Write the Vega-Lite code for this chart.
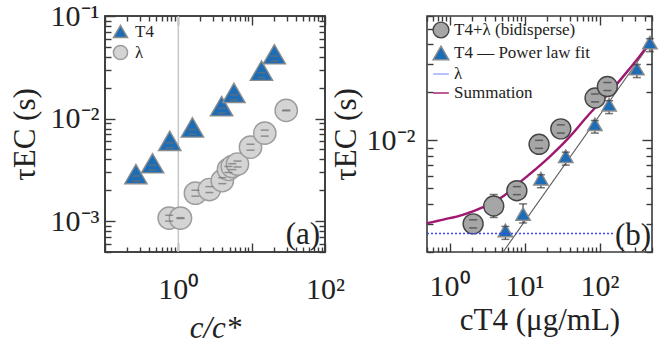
{
  "$schema": "https://vega.github.io/schema/vega-lite/v6.json",
  "background": "white",
  "padding": {"left": 8, "top": 0, "right": 0, "bottom": 0},
  "bounds": "flush",
  "spacing": 102,
  "resolve": {
    "scale": {"shape": "independent", "fill": "independent", "stroke": "independent", "strokeWidth": "independent"},
    "legend": {"shape": "independent", "fill": "independent", "stroke": "independent", "strokeWidth": "independent"}
  },
  "config": {
    "font": "Liberation Serif",
    "view": {"stroke": "#3a3a3a", "strokeWidth": 1.6},
    "axis": {
      "domain": false,
      "tickColor": "#3a3a3a", "tickWidth": 1.4,
      "labelFont": "Liberation Serif", "labelFontSize": 30, "labelColor": "#222",
      "titleFont": "Liberation Serif", "titleFontSize": 31, "titleColor": "#222", "titleFontWeight": "normal",
      "grid": false, "labelFlush": false, "labelOverlap": false, "labelBound": false
    },
    "legend": {"labelFont": "Liberation Serif", "labelFontSize": 17, "labelColor": "#222"}
  },
  "datasets": {
    "panel_a": [
      {"series": "T4", "x": 0.264, "y": 0.00288, "lo": 0.00246, "hi": 0.00275},
      {"series": "T4", "x": 0.445, "y": 0.00367, "lo": 0.00314, "hi": 0.00351},
      {"series": "T4", "x": 0.764, "y": 0.00606, "lo": 0.00519, "hi": 0.0058},
      {"series": "T4", "x": 1.555, "y": 0.0082, "lo": 0.00702, "hi": 0.00784},
      {"series": "T4", "x": 3.89, "y": 0.0132, "lo": 0.0113, "hi": 0.0126},
      {"series": "T4", "x": 5.73, "y": 0.0178, "lo": 0.0152, "hi": 0.017},
      {"series": "T4", "x": 13.6, "y": 0.0293, "lo": 0.0251, "hi": 0.028},
      {"series": "T4", "x": 20.4, "y": 0.0424, "lo": 0.0363, "hi": 0.0406},
      {"series": "λ", "x": 0.75, "y": 0.00107, "lo": 0.001, "hi": 0.00114},
      {"series": "λ", "x": 1.07, "y": 0.00107, "lo": 0.00106, "hi": 0.00108},
      {"series": "λ", "x": 1.71, "y": 0.00187, "lo": 0.00175, "hi": 0.002},
      {"series": "λ", "x": 2.65, "y": 0.00203, "lo": 0.0019, "hi": 0.00217},
      {"series": "λ", "x": 3.98, "y": 0.00248, "lo": 0.00232, "hi": 0.00265},
      {"series": "λ", "x": 4.83, "y": 0.00319, "lo": 0.00298, "hi": 0.00341},
      {"series": "λ", "x": 5.44, "y": 0.0034, "lo": 0.00318, "hi": 0.00363},
      {"series": "λ", "x": 6.41, "y": 0.0036, "lo": 0.00337, "hi": 0.00385},
      {"series": "λ", "x": 9.64, "y": 0.00526, "lo": 0.00492, "hi": 0.00562},
      {"series": "λ", "x": 15.1, "y": 0.00721, "lo": 0.00674, "hi": 0.00771},
      {"series": "λ", "x": 29.6, "y": 0.012, "lo": 0.0119, "hi": 0.0121}
    ],
    "overlap_mark": [
      {"c": 1, "y0": 0.0005, "y1": 0.1}
    ],
    "frame_a": [
      {"x0": 0.1, "x1": 100, "y0": 0.0005, "y1": 0.1}
    ],
    "panel_b": [
      {"series": "T4+λ (bidisperse)", "x": 2.06, "y": 0.003, "lo": 0.00283, "hi": 0.00318},
      {"series": "T4+λ (bidisperse)", "x": 3.88, "y": 0.00388, "lo": 0.00329, "hi": 0.00458},
      {"series": "T4+λ (bidisperse)", "x": 7.89, "y": 0.00484, "lo": 0.00457, "hi": 0.00513},
      {"series": "T4+λ (bidisperse)", "x": 15.6, "y": 0.00944, "lo": 0.00891, "hi": 0.01},
      {"series": "T4+λ (bidisperse)", "x": 30.4, "y": 0.0118, "lo": 0.0111, "hi": 0.0125},
      {"series": "T4+λ (bidisperse)", "x": 87.1, "y": 0.0184, "lo": 0.0174, "hi": 0.0195},
      {"series": "T4+λ (bidisperse)", "x": 127, "y": 0.0217, "lo": 0.0205, "hi": 0.023},
      {"series": "T4", "x": 5.55, "y": 0.00273, "lo": 0.0024, "hi": 0.00289},
      {"series": "T4", "x": 9.55, "y": 0.00346, "lo": 0.00304, "hi": 0.004},
      {"series": "T4", "x": 16.5, "y": 0.00575, "lo": 0.00505, "hi": 0.00609},
      {"series": "T4", "x": 35.4, "y": 0.00796, "lo": 0.00699, "hi": 0.00843},
      {"series": "T4", "x": 86.5, "y": 0.0126, "lo": 0.0111, "hi": 0.0133},
      {"series": "T4", "x": 134, "y": 0.0167, "lo": 0.0147, "hi": 0.0177},
      {"series": "T4", "x": 314, "y": 0.0281, "lo": 0.0247, "hi": 0.0298},
      {"series": "T4", "x": 469, "y": 0.0409, "lo": 0.0359, "hi": 0.0433}
    ],
    "fit": [
      {"x": 5.17, "y": 0.002},
      {"x": 482, "y": 0.0408}
    ],
    "lambda_level": [
      {"x": 0.5, "y": 0.00261},
      {"x": 156, "y": 0.00261}
    ],
    "summation": [
      {"x": 0.5, "y": 0.00303},
      {"x": 0.85, "y": 0.0032},
      {"x": 1.5, "y": 0.00342},
      {"x": 2.9, "y": 0.00385},
      {"x": 5.3, "y": 0.0045},
      {"x": 8, "y": 0.0053},
      {"x": 11.5, "y": 0.0061},
      {"x": 21, "y": 0.0078},
      {"x": 39, "y": 0.0104},
      {"x": 72, "y": 0.0145},
      {"x": 134, "y": 0.0198},
      {"x": 247, "y": 0.0278},
      {"x": 457, "y": 0.0399},
      {"x": 500, "y": 0.042}
    ]
  },
  "hconcat": [
    {
      "width": 220,
      "height": 236,
      "resolve": {"scale": {"x": "independent", "y": "independent"}},
      "layer": [
        {
          "data": {"name": "panel_a"},
          "mark": {"type": "point", "opacity": 0},
          "encoding": {
            "x": {
              "field": "x", "type": "quantitative",
              "scale": {"type": "log", "domain": [0.1, 100], "nice": false},
              "axis": {
                "orient": "bottom", "offset": -9, "tickSize": 9,
                "values": [0.1, 1, 10, 100],
                "labelExpr": "datum.value == 1 ? '10⁰' : datum.value == 100 ? '10²' : ''",
                "labelPadding": 22,
                "title": "c/c*", "titleFontStyle": "italic", "titlePadding": 9
              }
            },
            "y": {
              "field": "y", "type": "quantitative",
              "scale": {"type": "log", "domain": [0.0005, 0.1], "nice": false},
              "axis": {
                "orient": "left", "offset": -10, "tickSize": 10,
                "values": [0.001, 0.01, 0.1],
                "labelExpr": "datum.value == 0.1 ? '10⁻¹' : datum.value == 0.01 ? '10⁻²' : datum.value == 0.001 ? '10⁻³' : ''",
                "labelPadding": 6,
                "title": "τEC (s)", "titlePadding": 9
              }
            }
          }
        },
        {
          "data": {"name": "panel_a"},
          "mark": {"type": "point", "opacity": 0},
          "encoding": {
            "x": {
              "field": "x", "type": "quantitative",
              "scale": {"type": "log", "domain": [0.1, 100], "nice": false},
              "axis": {"orient": "top", "offset": -9, "tickSize": 9, "labels": false, "title": null, "values": [0.1, 1, 10, 100]}
            },
            "y": {
              "field": "y", "type": "quantitative",
              "scale": {"type": "log", "domain": [0.0005, 0.1], "nice": false},
              "axis": {"orient": "right", "offset": -10, "tickSize": 10, "labels": false, "title": null, "values": [0.001, 0.01, 0.1]}
            }
          }
        },
        {
          "data": {"name": "panel_a"},
          "mark": {"type": "point", "opacity": 0},
          "encoding": {
            "x": {
              "field": "x", "type": "quantitative",
              "scale": {"type": "log", "domain": [0.1, 100], "nice": false},
              "axis": {
                "orient": "bottom", "offset": -5, "tickSize": 5, "labels": false, "title": null,
                "values": [0.2, 0.3, 0.4, 0.5, 0.6, 0.7, 0.8, 0.9, 2, 3, 4, 5, 6, 7, 8, 9, 20, 30, 40, 50, 60, 70, 80, 90]
              }
            },
            "y": {
              "field": "y", "type": "quantitative",
              "scale": {"type": "log", "domain": [0.0005, 0.1], "nice": false},
              "axis": {
                "orient": "left", "offset": -6, "tickSize": 6, "labels": false, "title": null,
                "values": [0.0005, 0.0006, 0.0007, 0.0008, 0.0009, 0.002, 0.003, 0.004, 0.005, 0.006, 0.007, 0.008, 0.009, 0.02, 0.03, 0.04, 0.05, 0.06, 0.07, 0.08, 0.09]
              }
            }
          }
        },
        {
          "data": {"name": "panel_a"},
          "mark": {"type": "point", "opacity": 0},
          "encoding": {
            "x": {
              "field": "x", "type": "quantitative",
              "scale": {"type": "log", "domain": [0.1, 100], "nice": false},
              "axis": {
                "orient": "top", "offset": -5, "tickSize": 5, "labels": false, "title": null,
                "values": [0.2, 0.3, 0.4, 0.5, 0.6, 0.7, 0.8, 0.9, 2, 3, 4, 5, 6, 7, 8, 9, 20, 30, 40, 50, 60, 70, 80, 90]
              }
            },
            "y": {
              "field": "y", "type": "quantitative",
              "scale": {"type": "log", "domain": [0.0005, 0.1], "nice": false},
              "axis": {
                "orient": "right", "offset": -6, "tickSize": 6, "labels": false, "title": null,
                "values": [0.0005, 0.0006, 0.0007, 0.0008, 0.0009, 0.002, 0.003, 0.004, 0.005, 0.006, 0.007, 0.008, 0.009, 0.02, 0.03, 0.04, 0.05, 0.06, 0.07, 0.08, 0.09]
              }
            }
          }
        },
        {
          "layer": [
            {
              "data": {"name": "frame_a"},
              "mark": {"type": "rect", "fill": null, "fillOpacity": 0, "stroke": "#3a3a3a", "strokeWidth": 1.6},
              "encoding": {
                "x": {"field": "x0", "type": "quantitative", "scale": {"type": "log", "domain": [0.1, 100], "nice": false}, "axis": null},
                "x2": {"field": "x1"},
                "y": {"field": "y0", "type": "quantitative", "scale": {"type": "log", "domain": [0.0005, 0.1], "nice": false}, "axis": null},
                "y2": {"field": "y1"}
              }
            },
            {
              "data": {"name": "overlap_mark"},
              "mark": {"type": "rule", "color": "#c6c6c6", "strokeWidth": 1.5},
              "encoding": {
                "x": {"field": "c", "type": "quantitative", "scale": {"type": "log", "domain": [0.1, 100], "nice": false}, "axis": null},
                "y": {"field": "y0", "type": "quantitative", "scale": {"type": "log", "domain": [0.0005, 0.1], "nice": false}, "axis": null},
                "y2": {"field": "y1"}
              }
            },
            {
              "data": {"name": "panel_a"},
              "mark": {"type": "point", "filled": true, "size": 500, "strokeWidth": 1.4, "opacity": 1},
              "encoding": {
                "x": {"field": "x", "type": "quantitative", "scale": {"type": "log", "domain": [0.1, 100], "nice": false}, "axis": null},
                "y": {"field": "y", "type": "quantitative", "scale": {"type": "log", "domain": [0.0005, 0.1], "nice": false}, "axis": null},
                "shape": {
                  "field": "series", "type": "nominal",
                  "scale": {"domain": ["T4", "λ"], "range": ["triangle-up", "circle"]},
                  "legend": {
                    "orient": "top-left", "offset": 5, "title": null, "padding": 2,
                    "symbolSize": 200, "rowPadding": 1, "labelOffset": 6
                  }
                },
                "fill": {
                  "field": "series", "type": "nominal",
                  "scale": {"domain": ["T4", "λ"], "range": ["#1c6db5", "#d4d4d4"]},
                  "legend": {"title": null}
                },
                "stroke": {
                  "field": "series", "type": "nominal",
                  "scale": {"domain": ["T4", "λ"], "range": ["#8c8c8c", "#9c9c9c"]},
                  "legend": {"title": null}
                }
              }
            },
            {
              "data": {"name": "panel_a"},
              "mark": {"type": "tick", "orient": "horizontal", "size": 8, "thickness": 1.5, "color": "#707070"},
              "encoding": {
                "x": {"field": "x", "type": "quantitative", "scale": {"type": "log", "domain": [0.1, 100], "nice": false}, "axis": null},
                "y": {"field": "lo", "type": "quantitative", "scale": {"type": "log", "domain": [0.0005, 0.1], "nice": false}, "axis": null}
              }
            },
            {
              "data": {"name": "panel_a"},
              "mark": {"type": "tick", "orient": "horizontal", "size": 8, "thickness": 1.5, "color": "#707070"},
              "encoding": {
                "x": {"field": "x", "type": "quantitative", "scale": {"type": "log", "domain": [0.1, 100], "nice": false}, "axis": null},
                "y": {"field": "hi", "type": "quantitative", "scale": {"type": "log", "domain": [0.0005, 0.1], "nice": false}, "axis": null}
              }
            },
            {
              "data": {"values": [{"x": 50, "y": 0.00073, "t": "(a)"}]},
              "mark": {"type": "text", "fontSize": 31, "color": "#222", "align": "center", "baseline": "middle"},
              "encoding": {
                "x": {"field": "x", "type": "quantitative", "scale": {"type": "log", "domain": [0.1, 100], "nice": false}, "axis": null},
                "y": {"field": "y", "type": "quantitative", "scale": {"type": "log", "domain": [0.0005, 0.1], "nice": false}, "axis": null},
                "text": {"field": "t"}
              }
            }
          ]
        }
      ]
    },
    {
      "width": 225,
      "height": 236,
      "resolve": {"scale": {"x": "independent", "y": "independent"}},
      "layer": [
        {
          "data": {"name": "panel_b"},
          "mark": {"type": "point", "opacity": 0},
          "encoding": {
            "x": {
              "field": "x", "type": "quantitative",
              "scale": {"type": "log", "domain": [0.5, 500], "nice": false},
              "axis": {
                "orient": "bottom", "offset": -9, "tickSize": 9,
                "values": [1, 10, 100],
                "labelExpr": "datum.value == 1 ? '10⁰' : datum.value == 10 ? '10¹' : datum.value == 100 ? '10²' : ''",
                "labelPadding": 19,
                "title": "cT4 (μg/mL)", "titlePadding": 4
              }
            },
            "y": {
              "field": "y", "type": "quantitative",
              "scale": {"type": "log", "domain": [0.002, 0.06], "nice": false},
              "axis": {
                "orient": "left", "offset": -10, "tickSize": 10,
                "values": [0.01],
                "labelExpr": "datum.value == 0.01 ? '10⁻²' : ''",
                "labelPadding": 12,
                "title": "τEC (s)", "titlePadding": 4
              }
            }
          }
        },
        {
          "data": {"name": "panel_b"},
          "mark": {"type": "point", "opacity": 0},
          "encoding": {
            "x": {
              "field": "x", "type": "quantitative",
              "scale": {"type": "log", "domain": [0.5, 500], "nice": false},
              "axis": {"orient": "top", "offset": -9, "tickSize": 9, "labels": false, "title": null, "values": [1, 10, 100]}
            },
            "y": {
              "field": "y", "type": "quantitative",
              "scale": {"type": "log", "domain": [0.002, 0.06], "nice": false},
              "axis": {"orient": "right", "offset": -10, "tickSize": 10, "labels": false, "title": null, "values": [0.01]}
            }
          }
        },
        {
          "data": {"name": "panel_b"},
          "mark": {"type": "point", "opacity": 0},
          "encoding": {
            "x": {
              "field": "x", "type": "quantitative",
              "scale": {"type": "log", "domain": [0.5, 500], "nice": false},
              "axis": {
                "orient": "bottom", "offset": -5, "tickSize": 5, "labels": false, "title": null,
                "values": [0.5, 0.6, 0.7, 0.8, 0.9, 2, 3, 4, 5, 6, 7, 8, 9, 20, 30, 40, 50, 60, 70, 80, 90, 200, 300, 400, 500]
              }
            },
            "y": {
              "field": "y", "type": "quantitative",
              "scale": {"type": "log", "domain": [0.002, 0.06], "nice": false},
              "axis": {
                "orient": "left", "offset": -6, "tickSize": 6, "labels": false, "title": null,
                "values": [0.002, 0.003, 0.004, 0.005, 0.006, 0.007, 0.008, 0.009, 0.02, 0.03, 0.04, 0.05, 0.06]
              }
            }
          }
        },
        {
          "data": {"name": "panel_b"},
          "mark": {"type": "point", "opacity": 0},
          "encoding": {
            "x": {
              "field": "x", "type": "quantitative",
              "scale": {"type": "log", "domain": [0.5, 500], "nice": false},
              "axis": {
                "orient": "top", "offset": -5, "tickSize": 5, "labels": false, "title": null,
                "values": [0.5, 0.6, 0.7, 0.8, 0.9, 2, 3, 4, 5, 6, 7, 8, 9, 20, 30, 40, 50, 60, 70, 80, 90, 200, 300, 400, 500]
              }
            },
            "y": {
              "field": "y", "type": "quantitative",
              "scale": {"type": "log", "domain": [0.002, 0.06], "nice": false},
              "axis": {
                "orient": "right", "offset": -6, "tickSize": 6, "labels": false, "title": null,
                "values": [0.002, 0.003, 0.004, 0.005, 0.006, 0.007, 0.008, 0.009, 0.02, 0.03, 0.04, 0.05, 0.06]
              }
            }
          }
        },
        {
          "layer": [
            {
              "data": {"name": "fit"},
              "mark": {"type": "line", "color": "#5a5a5a", "strokeWidth": 1.1},
              "encoding": {
                "x": {"field": "x", "type": "quantitative", "scale": {"type": "log", "domain": [0.5, 500], "nice": false}, "axis": null},
                "y": {"field": "y", "type": "quantitative", "scale": {"type": "log", "domain": [0.002, 0.06], "nice": false}, "axis": null}
              }
            },
            {
              "data": {"name": "summation"},
              "mark": {"type": "line", "color": "#a01870", "strokeWidth": 2.4, "interpolate": "monotone"},
              "encoding": {
                "x": {"field": "x", "type": "quantitative", "scale": {"type": "log", "domain": [0.5, 500], "nice": false}, "axis": null},
                "y": {"field": "y", "type": "quantitative", "scale": {"type": "log", "domain": [0.002, 0.06], "nice": false}, "axis": null}
              }
            },
            {
              "data": {"name": "panel_b"},
              "mark": {"type": "rule", "color": "#555", "strokeWidth": 1.3},
              "encoding": {
                "x": {"field": "x", "type": "quantitative", "scale": {"type": "log", "domain": [0.5, 500], "nice": false}, "axis": null},
                "y": {"field": "lo", "type": "quantitative", "scale": {"type": "log", "domain": [0.002, 0.06], "nice": false}, "axis": null},
                "y2": {"field": "hi"}
              }
            },
            {
              "data": {"name": "panel_b"},
              "mark": {"type": "point", "filled": true, "opacity": 1},
              "encoding": {
                "x": {"field": "x", "type": "quantitative", "scale": {"type": "log", "domain": [0.5, 500], "nice": false}, "axis": null},
                "y": {"field": "y", "type": "quantitative", "scale": {"type": "log", "domain": [0.002, 0.06], "nice": false}, "axis": null},
                "shape": {
                  "field": "series", "type": "nominal",
                  "scale": {"domain": ["T4+λ (bidisperse)", "T4", "λ", "Summation"], "range": ["circle", "triangle-up", "stroke", "stroke"]},
                  "legend": {
                    "orient": "top-left", "offset": 3, "title": null, "padding": 2,
                    "symbolSize": 250, "rowPadding": 2, "labelOffset": 4,
                    "labelExpr": "datum.label == 'T4' ? 'T4   — Power law fit' : datum.label"
                  }
                },
                "fill": {
                  "field": "series", "type": "nominal",
                  "scale": {"domain": ["T4+λ (bidisperse)", "T4", "λ", "Summation"], "range": ["#a6a6a6", "#1c6db5", "#a3a9ff", "#a01870"]},
                  "legend": {"title": null}
                },
                "stroke": {
                  "field": "series", "type": "nominal",
                  "scale": {"domain": ["T4+λ (bidisperse)", "T4", "λ", "Summation"], "range": ["#444444", "#8c8c8c", "#9ea6ff", "#a01870"]},
                  "legend": {"title": null}
                },
                "strokeWidth": {
                  "field": "series", "type": "nominal",
                  "scale": {"domain": ["T4+λ (bidisperse)", "T4", "λ", "Summation"], "range": [1.4, 1.4, 3.5, 3]},
                  "legend": {"title": null}
                },
                "size": {"condition": {"test": "datum.series === 'T4'", "value": 210}, "value": 400}
              }
            },
            {
              "data": {"name": "panel_b"},
              "mark": {"type": "tick", "orient": "horizontal", "size": 8, "thickness": 1.5, "color": "#3c3c3c"},
              "encoding": {
                "x": {"field": "x", "type": "quantitative", "scale": {"type": "log", "domain": [0.5, 500], "nice": false}, "axis": null},
                "y": {"field": "lo", "type": "quantitative", "scale": {"type": "log", "domain": [0.002, 0.06], "nice": false}, "axis": null}
              }
            },
            {
              "data": {"name": "panel_b"},
              "mark": {"type": "tick", "orient": "horizontal", "size": 8, "thickness": 1.5, "color": "#3c3c3c"},
              "encoding": {
                "x": {"field": "x", "type": "quantitative", "scale": {"type": "log", "domain": [0.5, 500], "nice": false}, "axis": null},
                "y": {"field": "hi", "type": "quantitative", "scale": {"type": "log", "domain": [0.002, 0.06], "nice": false}, "axis": null}
              }
            },
            {
              "data": {"name": "lambda_level"},
              "mark": {"type": "line", "color": "#3f3fff", "strokeWidth": 1.4, "strokeDash": [2, 2]},
              "encoding": {
                "x": {"field": "x", "type": "quantitative", "scale": {"type": "log", "domain": [0.5, 500], "nice": false}, "axis": null},
                "y": {"field": "y", "type": "quantitative", "scale": {"type": "log", "domain": [0.002, 0.06], "nice": false}, "axis": null}
              }
            },
            {
              "data": {"values": [{"x": 280, "y": 0.00251, "t": "(b)"}]},
              "mark": {"type": "text", "fontSize": 31, "color": "#222", "align": "center", "baseline": "middle"},
              "encoding": {
                "x": {"field": "x", "type": "quantitative", "scale": {"type": "log", "domain": [0.5, 500], "nice": false}, "axis": null},
                "y": {"field": "y", "type": "quantitative", "scale": {"type": "log", "domain": [0.002, 0.06], "nice": false}, "axis": null},
                "text": {"field": "t"}
              }
            }
          ]
        }
      ]
    }
  ]
}
